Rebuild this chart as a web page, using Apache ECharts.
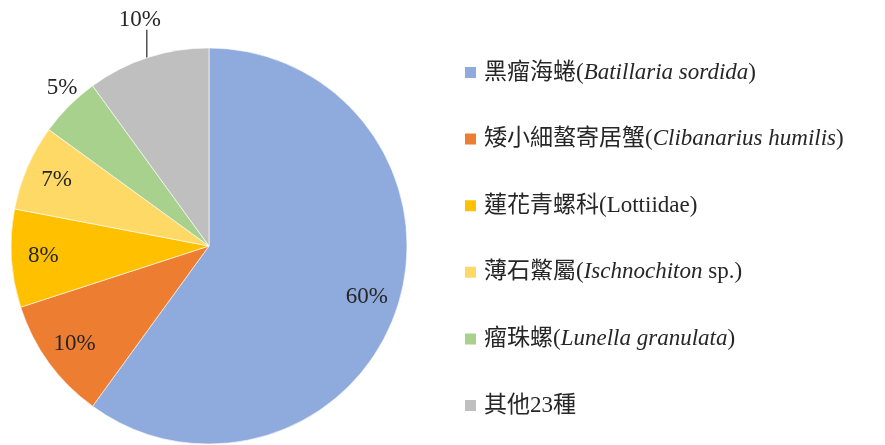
<!DOCTYPE html>
<html>
<head>
<meta charset="utf-8">
<script src="https://cdn.jsdelivr.net/npm/echarts@6/dist/echarts.min.js"></script>
<style>
  html, body { margin: 0; padding: 0; background: #fff; }
  #chart { width: 885px; height: 445px; }
</style>
</head>
<body>
<div id="chart"></div>
<script>
// Dados (porcentagem de cada grupo)
const zhNames = ['黑瘤海蜷', '矮小細螯寄居蟹', '蓮花青螺科', '薄石鱉屬', '瘤珠螺', '其他23種'];
const sciNames = ['Batillaria sordida', 'Clibanarius humilis', 'Lottiidae', 'Ischnochiton', 'Lunella granulata', ''];
const sciItalic = [true, true, false, true, true, false];
const sciSuffix = ['', '', '', ' sp.', '', ''];
const shares = [60, 10, 8, 7, 5, 10];
const sliceColors = ['#8faadc', '#ed7d31', '#ffc000', '#ffd966', '#a9d18e', '#bfbfbf'];
// fatias com rótulo dentro / fora
const insideLabel = [true, true, true, true, false, false];

const fonte = '"Liberation Serif", "Noto Sans CJK TC", serif';
const corTexto = '#262626';

const chart = echarts.init(document.getElementById('chart'));

const dadosPizza = zhNames.map((nome, i) => ({
    name: nome,
    value: shares[i],
    itemStyle: { color: sliceColors[i] },
    label: { show: !insideLabel[i] },
    labelLine: { show: !insideLabel[i], lineStyle: { opacity: i === 4 ? 0 : 1 } }
}));

// serie invisível só para colocar os rótulos internos mais perto da borda
const dadosRotulos = zhNames.map((nome, i) => ({
    name: nome,
    value: shares[i],
    label: { show: insideLabel[i] }
}));

const option = {
    animation: false,
    legend: {
        orient: 'vertical',
        left: 458,
        top: 55,
        padding: 5,
        itemWidth: 13,
        itemHeight: 13,
        itemGap: 41.6,
        icon: 'rect',
        data: zhNames,
        formatter: function(name) {
            const i = zhNames.indexOf(name);
            if (!sciNames[i]) return name;
            const sci = sciItalic[i] ? `{it|${sciNames[i]}}` : sciNames[i];
            return `${name}(${sci}${sciSuffix[i]})`;
        },
        textStyle: {
            fontFamily: fonte,
            fontSize: 23,
            color: corTexto,
            lineHeight: 25,
            padding: [0, 0, 0, 2],
            rich: {
                it: { fontFamily: fonte, fontSize: 23, fontStyle: 'italic', color: corTexto, lineHeight: 25 }
            }
        }
    },
    series: [
        {
            type: 'pie',
            center: [209, 246],
            radius: [0, 198],
            startAngle: 90,
            clockwise: true,
            avoidLabelOverlap: false,
            data: dadosPizza,
            itemStyle: { borderColor: '#ffffff', borderWidth: 0.6 },
            label: {
                position: 'outside',
                formatter: '{c}%',
                fontFamily: fonte,
                fontSize: 23,
                color: corTexto
            },
            labelLine: {
                length: 28,
                length2: 0,
                lineStyle: { color: '#262626', width: 1.2 }
            },
            // ajusta os rótulos externos: "10%" em cima de uma linha vertical
            labelLayout: function(params) {
                const pts = params.labelLinePoints;
                if (!pts) return {};
                const p0 = pts[0];
                if (params.dataIndex === 5) {
                    return {
                        x: p0[0] - 8,
                        y: p0[1] - 26,
                        align: 'center',
                        verticalAlign: 'bottom',
                        labelLinePoints: [[p0[0] - 1, p0[1]], [p0[0] - 1, p0[1] - 28]]
                    };
                }
                if (params.dataIndex === 4) {
                    return {
                        x: p0[0] - 7,
                        y: p0[1] - 18,
                        align: 'center',
                        verticalAlign: 'middle'
                    };
                }
                return {};
            }
        },
        {
            type: 'pie',
            center: [209, 246],
            radius: [128, 198],
            startAngle: 90,
            clockwise: true,
            silent: true,
            legendHoverLink: false,
            data: dadosRotulos,
            itemStyle: { color: 'rgba(0,0,0,0)' },
            label: {
                position: 'inside',
                formatter: '{c}%',
                fontFamily: fonte,
                fontSize: 23,
                color: corTexto
            },
            labelLine: { show: false }
        }
    ]
};

chart.setOption(option);
</script>
</body>
</html>
